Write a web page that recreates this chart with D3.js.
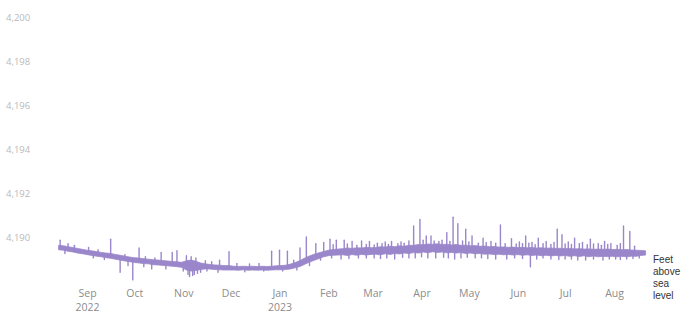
<!DOCTYPE html>
<html>
<head>
<meta charset="utf-8">
<script src="https://cdn.jsdelivr.net/npm/d3@7"></script>
<style>
  html, body { margin: 0; padding: 0; background: #fff; }
  svg { display: block; }
</style>
</head>
<body>
<svg id="chart" width="689" height="320"></svg>
<script>
// Lake surface elevation, feet above sea level.
// Usual daily range, one window every 3 days from 14 Aug 2022.
const firstDay = new Date(2022, 7, 14);
const stepDays = 3;

const bandLow = [
  4189.42, 4189.40, 4189.35, 4189.32, 4189.27, 4189.24, 4189.20, 4189.16, 4189.13, 4189.10,
  4189.06, 4189.03, 4188.99, 4188.95, 4188.91, 4188.88, 4188.84, 4188.82, 4188.79, 4188.78,
  4188.74, 4188.73, 4188.71, 4188.69, 4188.67, 4188.65, 4188.62, 4188.50, 4188.45, 4188.48,
  4188.52, 4188.55, 4188.54, 4188.52, 4188.51, 4188.50, 4188.50, 4188.50, 4188.49, 4188.51,
  4188.49, 4188.50, 4188.49, 4188.50, 4188.49, 4188.50, 4188.51, 4188.51, 4188.52, 4188.55,
  4188.60, 4188.66, 4188.76, 4188.86, 4188.94, 4189.02, 4189.10, 4189.15, 4189.17, 4189.18,
  4189.19, 4189.16, 4189.20, 4189.17, 4189.21, 4189.18, 4189.21, 4189.22, 4189.19, 4189.24,
  4189.21, 4189.25, 4189.23, 4189.27, 4189.25, 4189.29, 4189.27, 4189.32, 4189.28, 4189.33,
  4189.30, 4189.32, 4189.28, 4189.30, 4189.27, 4189.29, 4189.25, 4189.27, 4189.24, 4189.25,
  4189.22, 4189.23, 4189.20, 4189.22, 4189.19, 4189.21, 4189.18, 4189.20, 4189.17, 4189.19,
  4189.16, 4189.18, 4189.15, 4189.17, 4189.14, 4189.16, 4189.14, 4189.16, 4189.12, 4189.15,
  4189.11, 4189.15, 4189.10, 4189.14, 4189.10, 4189.12, 4189.11, 4189.12, 4189.10, 4189.12,
  4189.10, 4189.13, 4189.12, 4189.16, 4189.18
];

const bandHigh = [
  4189.62, 4189.60, 4189.56, 4189.52, 4189.48, 4189.44, 4189.40, 4189.37, 4189.34, 4189.30,
  4189.27, 4189.25, 4189.21, 4189.17, 4189.13, 4189.09, 4189.06, 4189.04, 4189.01, 4188.99,
  4188.97, 4188.95, 4188.93, 4188.91, 4188.89, 4188.87, 4188.85, 4188.92, 4188.95, 4188.90,
  4188.82, 4188.78, 4188.75, 4188.73, 4188.72, 4188.70, 4188.70, 4188.67, 4188.66, 4188.67,
  4188.66, 4188.67, 4188.66, 4188.67, 4188.66, 4188.67, 4188.69, 4188.70, 4188.72, 4188.77,
  4188.84, 4188.93, 4189.04, 4189.14, 4189.22, 4189.28, 4189.34, 4189.40, 4189.43, 4189.45,
  4189.47, 4189.50, 4189.48, 4189.51, 4189.50, 4189.53, 4189.51, 4189.52, 4189.56, 4189.54,
  4189.58, 4189.56, 4189.60, 4189.58, 4189.62, 4189.62, 4189.66, 4189.65, 4189.68, 4189.67,
  4189.69, 4189.66, 4189.67, 4189.64, 4189.66, 4189.62, 4189.63, 4189.60, 4189.61, 4189.58,
  4189.59, 4189.56, 4189.57, 4189.54, 4189.55, 4189.53, 4189.54, 4189.52, 4189.53, 4189.51,
  4189.52, 4189.50, 4189.51, 4189.49, 4189.50, 4189.48, 4189.49, 4189.47, 4189.48, 4189.46,
  4189.47, 4189.45, 4189.46, 4189.44, 4189.45, 4189.44, 4189.45, 4189.43, 4189.44, 4189.42,
  4189.43, 4189.41, 4189.40, 4189.39, 4189.37
];

// Short-lived highs above the usual range: [day, level]
const peaks = [
  ["2022-08-15", 4189.85], ["2022-08-20", 4189.70], ["2022-08-24", 4189.62], ["2022-09-02", 4189.52],
  ["2022-09-08", 4189.42], ["2022-09-16", 4189.90], ["2022-09-25", 4189.20], ["2022-10-04", 4189.50],
  ["2022-10-08", 4189.10], ["2022-10-14", 4189.05], ["2022-10-18", 4189.30], ["2022-10-25", 4189.30],
  ["2022-10-28", 4189.38], ["2022-11-03", 4189.15], ["2022-11-06", 4189.10], ["2022-11-09", 4189.05],
  ["2022-11-15", 4188.92], ["2022-11-19", 4188.88], ["2022-11-24", 4188.95], ["2022-11-30", 4189.33],
  ["2022-12-05", 4188.80], ["2022-12-13", 4188.78], ["2022-12-19", 4188.80], ["2022-12-27", 4189.35],
  ["2023-01-01", 4189.40], ["2023-01-06", 4189.35], ["2023-01-10", 4188.95], ["2023-01-14", 4189.50],
  ["2023-01-18", 4190.00], ["2023-01-24", 4189.70], ["2023-01-29", 4189.75], ["2023-02-02", 4189.90],
  ["2023-02-04", 4189.65], ["2023-02-06", 4189.85], ["2023-02-11", 4189.85], ["2023-02-13", 4189.68],
  ["2023-02-16", 4189.80], ["2023-02-19", 4189.62], ["2023-02-22", 4189.82], ["2023-02-25", 4189.66],
  ["2023-02-27", 4189.80], ["2023-03-02", 4189.64], ["2023-03-04", 4189.72], ["2023-03-07", 4189.70],
  ["2023-03-09", 4189.78], ["2023-03-11", 4189.66], ["2023-03-13", 4189.80], ["2023-03-17", 4189.70],
  ["2023-03-19", 4189.78], ["2023-03-21", 4189.72], ["2023-03-24", 4189.82], ["2023-03-27", 4190.50],
  ["2023-03-31", 4190.80], ["2023-04-02", 4189.85], ["2023-04-04", 4190.05], ["2023-04-07", 4190.05],
  ["2023-04-09", 4189.82], ["2023-04-12", 4189.80], ["2023-04-14", 4189.85], ["2023-04-17", 4190.20],
  ["2023-04-19", 4189.80], ["2023-04-21", 4190.90], ["2023-04-24", 4190.60], ["2023-04-27", 4189.82],
  ["2023-04-29", 4190.35], ["2023-05-01", 4189.78], ["2023-05-03", 4190.05], ["2023-05-07", 4189.72],
  ["2023-05-10", 4189.95], ["2023-05-12", 4189.75], ["2023-05-15", 4189.80], ["2023-05-18", 4189.72],
  ["2023-05-21", 4190.55], ["2023-05-24", 4189.70], ["2023-05-28", 4189.92], ["2023-05-31", 4189.68],
  ["2023-06-02", 4189.78], ["2023-06-04", 4189.70], ["2023-06-06", 4190.05], ["2023-06-08", 4189.72],
  ["2023-06-10", 4189.75], ["2023-06-12", 4189.65], ["2023-06-14", 4189.95], ["2023-06-17", 4189.70],
  ["2023-06-19", 4189.80], ["2023-06-22", 4189.66], ["2023-06-24", 4189.75], ["2023-06-26", 4190.35],
  ["2023-06-29", 4190.10], ["2023-07-01", 4189.68], ["2023-07-03", 4189.78], ["2023-07-05", 4189.66],
  ["2023-07-07", 4189.95], ["2023-07-10", 4189.70], ["2023-07-12", 4189.75], ["2023-07-15", 4189.65],
  ["2023-07-17", 4189.90], ["2023-07-19", 4189.68], ["2023-07-22", 4189.70], ["2023-07-24", 4189.62],
  ["2023-07-26", 4189.80], ["2023-07-28", 4189.66], ["2023-07-30", 4189.70], ["2023-08-03", 4189.62],
  ["2023-08-05", 4189.70], ["2023-08-07", 4190.50], ["2023-08-11", 4190.25], ["2023-08-14", 4189.58]
];

// Short-lived lows below the usual range: [day, level]
const dips = [
  ["2022-08-18", 4189.25], ["2022-09-05", 4189.05], ["2022-09-12", 4188.98], ["2022-09-22", 4188.40],
  ["2022-09-27", 4188.70], ["2022-09-30", 4188.05], ["2022-10-07", 4188.65], ["2022-10-12", 4188.55],
  ["2022-10-21", 4188.55], ["2022-11-01", 4188.45], ["2022-11-04", 4188.30], ["2022-11-05", 4188.20],
  ["2022-11-07", 4188.25], ["2022-11-08", 4188.30], ["2022-11-10", 4188.35], ["2022-11-12", 4188.40],
  ["2022-11-16", 4188.45], ["2022-11-23", 4188.40], ["2022-12-10", 4188.42], ["2022-12-22", 4188.45],
  ["2023-01-03", 4188.45], ["2023-01-12", 4188.50], ["2023-01-20", 4188.70], ["2023-01-27", 4188.95],
  ["2023-02-03", 4189.05], ["2023-02-09", 4189.00], ["2023-02-14", 4189.02], ["2023-02-20", 4189.05],
  ["2023-02-25", 4189.05], ["2023-03-02", 4189.05], ["2023-03-06", 4189.02], ["2023-03-10", 4189.05],
  ["2023-03-15", 4189.00], ["2023-03-20", 4189.08], ["2023-03-24", 4189.05], ["2023-03-28", 4189.05],
  ["2023-04-01", 4189.10], ["2023-04-05", 4189.05], ["2023-04-10", 4189.05], ["2023-04-15", 4189.08],
  ["2023-04-18", 4189.05], ["2023-04-22", 4189.00], ["2023-04-26", 4189.05], ["2023-04-30", 4189.08],
  ["2023-05-05", 4189.05], ["2023-05-09", 4189.05], ["2023-05-13", 4189.02], ["2023-05-18", 4189.00],
  ["2023-05-25", 4189.00], ["2023-05-30", 4189.05], ["2023-06-04", 4189.02], ["2023-06-09", 4188.65],
  ["2023-06-13", 4189.00], ["2023-06-17", 4189.05], ["2023-06-22", 4189.00], ["2023-06-27", 4188.98],
  ["2023-07-01", 4189.00], ["2023-07-05", 4189.00], ["2023-07-09", 4188.95], ["2023-07-14", 4188.95],
  ["2023-07-19", 4189.00], ["2023-07-25", 4188.95], ["2023-07-29", 4189.00], ["2023-08-02", 4189.00],
  ["2023-08-05", 4188.98], ["2023-08-09", 4189.00], ["2023-08-13", 4189.02], ["2023-08-17", 4189.05]
];

const yTicks = [4190, 4192, 4194, 4196, 4198, 4200];
const monthTicks = [
  "2022-09-01", "2022-10-01", "2022-11-01", "2022-12-01", "2023-01-01", "2023-02-01",
  "2023-03-01", "2023-04-01", "2023-05-01", "2023-06-01", "2023-07-01", "2023-08-01"
];
const unitLabel = ["Feet", "above", "sea", "level"];

const parseDay = d3.timeParse("%Y-%m-%d");
const svg = d3.select("#chart");
const purple = "#9a86ca";

const dates = bandLow.map((_, i) => d3.timeDay.offset(firstDay, i * stepDays));

const x = d3.scaleTime()
  .domain([firstDay, dates[dates.length - 1]])
  .range([58.6, 645.6]);

const y = d3.scaleLinear()
  .domain([4188, 4200])
  .range([281, 17]);

// Y axis: labels only, no rule or tick marks
const yAxis = svg.append("g")
  .attr("transform", "translate(6,0)")
  .call(d3.axisRight(y).tickValues(yTicks).tickSize(0).tickFormat(d3.format(",")));
yAxis.select(".domain").remove();
yAxis.selectAll("text")
  .attr("x", 0)
  .attr("dy", "0.32em")
  .attr("text-anchor", "start")
  .attr("fill", "#b9b9b9")
  .style("font-family", "'Open Sans', sans-serif")
  .style("font-size", "9.5px");

// X axis: month names, with the year under the first month and January
const monthFmt = d3.timeFormat("%b");
const xAxis = svg.append("g")
  .attr("transform", "translate(0,285)")
  .call(d3.axisBottom(x).tickValues(monthTicks.map(parseDay)).tickSize(0).tickFormat(() => ""));
xAxis.select(".domain").remove();
xAxis.selectAll(".tick text").each(function (d, i) {
  const t = d3.select(this)
    .attr("y", 12)
    .attr("dy", 0)
    .attr("fill", "#8c8c8c")
    .style("font-family", "'Open Sans', sans-serif")
    .style("font-size", "10.5px");
  t.append("tspan").attr("x", 0).text(monthFmt(d));
  if (i === 0 || d.getMonth() === 0) {
    t.append("tspan").attr("x", 0).attr("dy", "1.35em").text(d.getFullYear());
  }
});

// Usual range as a filled band
const band = dates.map((d, i) => ({ date: d, lo: bandLow[i], hi: bandHigh[i] }));
svg.append("path")
  .datum(band)
  .attr("d", d3.area()
    .x(p => x(p.date))
    .y0(p => y(p.lo))
    .y1(p => y(p.hi)))
  .attr("fill", purple)
  .attr("stroke", purple)
  .attr("stroke-width", 0.8)
  .attr("stroke-linejoin", "round");

// Peaks and dips: thin strokes out of the middle of the band
const bandMid = date => {
  const i = Math.max(0, Math.min(band.length - 1,
    Math.round(d3.timeDay.count(firstDay, date) / stepDays)));
  return (band[i].lo + band[i].hi) / 2;
};
const spikes = peaks.concat(dips).map(([s, level]) => ({ date: parseDay(s), level }));

svg.append("g")
  .selectAll("line")
  .data(spikes)
  .join("line")
  .attr("x1", s => x(s.date))
  .attr("x2", s => x(s.date))
  .attr("y1", s => y(bandMid(s.date)))
  .attr("y2", s => y(s.level))
  .attr("stroke", purple)
  .attr("stroke-width", 1.4)
  .attr("stroke-linecap", "round");

// Unit label at the end of the trace
const unit = svg.append("text")
  .attr("x", 653)
  .attr("y", 263)
  .attr("fill", "#333")
  .style("font-family", "'Liberation Sans', Arial, sans-serif")
  .style("font-size", "10px");
unitLabel.forEach((w, i) => {
  unit.append("tspan").attr("x", 653).attr("dy", i === 0 ? 0 : 12).text(w);
});
</script>
</body>
</html>
